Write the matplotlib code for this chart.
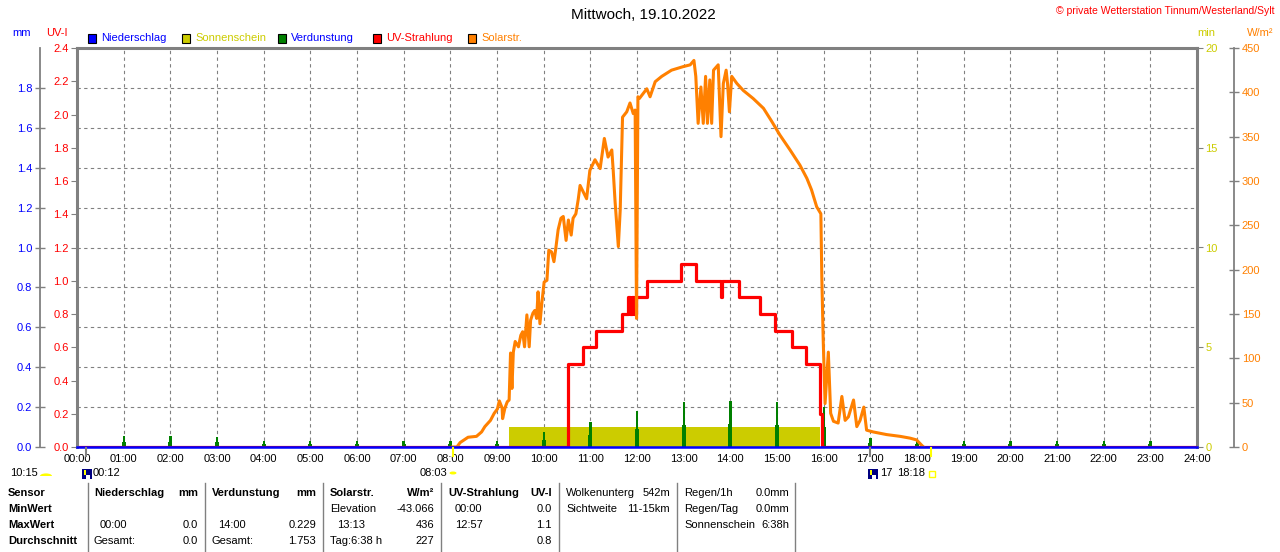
import numpy as np
import matplotlib
matplotlib.use("Agg")
import matplotlib.pyplot as plt
from matplotlib.patches import Rectangle, Circle, Wedge
from matplotlib.lines import Line2D

plt.rcParams['font.family'] = ['Liberation Sans', 'DejaVu Sans']
plt.rcParams['font.size'] = 8

W, H = 1280, 552

# ---- data -------------------------------------------------------------
hours = np.arange(0, 25)
hour_labels = ["%02d:00" % h for h in hours]

# Niederschlag (mm) - nothing fell
rain_hours = [0, 24]
rain_mm = [0.0, 0.0]

# Verdunstung per hour (mm)
evap_hours = np.arange(1, 24)
evap_mm = [0.055, 0.055, 0.05, 0.03, 0.03, 0.03, 0.03, 0.03, 0.03, 0.075,
           0.125, 0.18, 0.225, 0.229, 0.225, 0.2, 0.045, 0.03, 0.03, 0.03,
           0.03, 0.03, 0.03]

# Sonnenschein (min per interval)
sun_t = [9.25, 15.92]
sun_min = [1.0, 1.0]

# UV-Strahlung (UV-I), stepwise
uv_t = [0, 10.52, 10.84, 11.12, 11.68, 11.81, 11.86, 11.90, 11.93, 11.97,
        12.21, 12.94, 13.26, 13.79, 13.82, 14.19, 14.64, 14.96, 15.32,
        15.62, 15.92, 15.97, 24]
uv_val = [0, 0.5, 0.6, 0.7, 0.8, 0.9, 0.8, 0.9, 0.8, 0.9,
          1.0, 1.1, 1.0, 0.9, 1.0, 0.9, 0.8, 0.7, 0.6,
          0.5, 0.2, 0, 0]

# Solarstrahlung (W/m2)
sol_t = [8.05, 8.14, 8.21, 8.38, 8.56, 8.67, 8.74, 8.86, 8.94, 9.01, 9.05,
         9.11, 9.12, 9.17, 9.22, 9.26, 9.29, 9.32, 9.35, 9.39, 9.46, 9.51,
         9.55, 9.59, 9.64, 9.69, 9.72, 9.77, 9.81, 9.85, 9.88, 9.92, 9.96,
         10.01, 10.07, 10.11, 10.17, 10.22, 10.26, 10.31, 10.37, 10.42,
         10.48, 10.53, 10.59, 10.63, 10.69, 10.74, 10.78,
         10.92, 10.99, 11.10, 11.21, 11.30, 11.38, 11.46, 11.49,
         11.53, 11.60, 11.64, 11.69, 11.78, 11.85, 11.92, 11.96, 11.99,
         12.02, 12.05, 12.21, 12.28, 12.39, 12.53, 12.74, 12.99, 13.14,
         13.22, 13.26, 13.31, 13.37, 13.42, 13.47, 13.51, 13.56, 13.60,
         13.64, 13.74, 13.80, 13.85, 13.91, 13.94, 13.98, 14.03, 14.14,
         14.28, 14.49, 14.71, 14.89, 15.06, 15.28, 15.49, 15.64, 15.74,
         15.85, 15.94, 15.96, 15.99, 16.03, 16.10, 16.15, 16.21, 16.31,
         16.39, 16.46, 16.53, 16.64, 16.71, 16.78, 16.86, 16.92, 17.06,
         17.35, 17.64, 17.85, 17.99, 18.10, 18.14]
sol_w = [0, 0, 5, 11, 12, 17, 23, 30, 38, 43, 52,
         44, 32, 44, 51, 53, 106, 66, 107, 119, 113, 126,
         130, 113, 149, 113, 143, 151, 154, 145, 175, 139, 162,
         186, 188, 222, 220, 209, 224, 245, 258, 260,
         233, 256, 239, 258, 263, 279, 295,
         280, 312, 324, 314, 348, 327, 335, 312,
         277, 226, 267, 372, 378, 388, 376, 380, 145,
         395, 393, 404, 395, 412, 418, 425, 429, 431,
         436, 418, 365, 406, 365, 418, 365, 414, 365,
         425, 431, 350, 410, 425, 410, 378, 418, 410,
         402, 393, 382, 367, 352, 335, 318, 303, 290,
         271, 263, 192, 121, 49, 107, 38, 29, 27,
         57, 30, 34, 53, 23, 30, 45, 19, 17,
         14, 12, 10, 8, 2, 0]

BLUE = '#0000ff'
YELLOW = '#cccc00'
GREEN = '#008000'
RED = '#ff0000'
ORANGE = '#ff8000'
GRAY = '#808080'
PT = 0.72  # points per pixel at 100 dpi

fig = plt.figure(figsize=(12.8, 5.52), dpi=100)
ax = fig.add_axes([77 / W, 1 - 447 / H, (1197 - 77) / W, (447 - 48) / H])


def only(a, sides):
    for k, s in a.spines.items():
        s.set_visible(k in sides)


# main axis: grid + mm scale
ax.set_xlim(0, 24)
ax.set_ylim(0, 2.0)
only(ax, ['left', 'top', 'bottom'])
ax.spines['left'].set_position(('outward', 37 * PT))
ax.spines['left'].set_color(GRAY)
ax.spines['left'].set_linewidth(1.3)
ax.spines['top'].set_color(GRAY)
ax.spines['top'].set_linewidth(2.2)
ax.spines['bottom'].set_color(GRAY)
ax.set_yticks(np.arange(0, 1.81, 0.2))
ax.set_yticklabels(["%.1f" % v for v in np.arange(0, 1.81, 0.2)])
ax.tick_params(axis='y', colors=GRAY, labelcolor=BLUE, direction='inout',
               length=7, width=1, pad=2, labelsize=8)
ax.set_xticks(hours)
ax.set_xticklabels(hour_labels)
ax.tick_params(axis='x', length=0, pad=5, labelsize=8)
ax.grid(True, color=GRAY, linestyle=(0, (3, 3)), linewidth=0.8)

# Sonnenschein (min)
ax_sun = ax.twinx()
ax_sun.set_ylim(0, 20)
only(ax_sun, ['right'])
ax_sun.spines['right'].set_color(GRAY)
ax_sun.spines['right'].set_linewidth(2.2)
ax_sun.set_yticks([0, 5, 10, 15, 20])
ax_sun.tick_params(axis='y', colors=GRAY, labelcolor=YELLOW, length=4,
                   pad=2, labelsize=8)
ax_sun.fill_between(sun_t, sun_min, color=YELLOW, linewidth=0)

# Verdunstung (mm)
ax_ev = ax.twinx()
ax_ev.set_ylim(0, 2.0)
only(ax_ev, [])
ax_ev.set_yticks([])
ax_ev.bar(evap_hours, evap_mm, width=0.05, color=GREEN, linewidth=0)
ax_ev.bar(evap_hours, np.array(evap_mm) / 2, width=0.09, color=GREEN,
          linewidth=0)

# UV-Strahlung
ax_uv = ax.twinx()
ax_uv.set_ylim(0, 2.4)
only(ax_uv, ['left'])
ax_uv.yaxis.set_ticks_position('left')
ax_uv.spines['left'].set_color(GRAY)
ax_uv.spines['left'].set_linewidth(2.2)
ax_uv.set_yticks(np.arange(0, 2.41, 0.2))
ax_uv.set_yticklabels(["%.1f" % v for v in np.arange(0, 2.41, 0.2)])
ax_uv.tick_params(axis='y', colors=GRAY, labelcolor=RED, length=4, pad=2,
                  labelsize=8)
ax_uv.step(uv_t, uv_val, where='post', color=RED, linewidth=2.3)

# Solarstrahlung
ax_sol = ax.twinx()
ax_sol.set_ylim(0, 450)
only(ax_sol, ['right'])
ax_sol.spines['right'].set_position(('outward', 37 * PT))
ax_sol.spines['right'].set_color(GRAY)
ax_sol.spines['right'].set_linewidth(1.3)
ax_sol.set_yticks(np.arange(0, 451, 50))
ax_sol.tick_params(axis='y', colors=GRAY, labelcolor=ORANGE,
                   direction='inout', length=7, width=1, pad=2, labelsize=8)
ax_sol.plot(sol_t, sol_w, color=ORANGE, linewidth=2.2)

# Niederschlag (mm), drawn last so the blue zero line sits on top
ax_rain = ax.twinx()
ax_rain.set_ylim(0, 2.0)
only(ax_rain, [])
ax_rain.set_yticks([])
ax_rain.plot(rain_hours, rain_mm, color=BLUE, linewidth=1.8, clip_on=False)

# sunrise/sunset + moon marks under the axis
for t, c in [(0.2, GRAY), (17.0, GRAY), (8.05, 'yellow'), (18.3, 'yellow')]:
    ax_rain.plot([t, t], [-0.005, -0.045], color=c, linewidth=1.5,
                 clip_on=False)


def px(x, y):
    return x / W, 1 - y / H


def ftxt(x, y, s, **kw):
    kw.setdefault('va', 'center')
    fig.text(*px(x, y), s, **kw)


# title and header texts
ftxt(643, 15, "Mittwoch, 19.10.2022", ha='center', fontsize=11)
ftxt(1275, 11, "\u00a9 private Wetterstation Tinnum/Westerland/Sylt",
     ha='right', color=RED, fontsize=7.5)
ftxt(22, 33, "mm", ha='center', color=BLUE)
ftxt(57, 33, "UV-I", ha='center', color=RED)
ftxt(1206, 33, "min", ha='center', color=YELLOW)
ftxt(1260, 33, "W/m\u00b2", ha='center', color=ORANGE)

legend = [("Niederschlag", BLUE, BLUE), ("Sonnenschein", YELLOW, YELLOW),
          ("Verdunstung", GREEN, BLUE), ("UV-Strahlung", RED, RED),
          ("Solarstr.", ORANGE, ORANGE)]
leg_x = [88, 182, 278, 373, 468]
for (lab, fc, tc), x in zip(legend, leg_x):
    fig.add_artist(Rectangle(px(x, 43), 8 / W, 9 / H, facecolor=fc,
                             edgecolor='black', linewidth=0.8,
                             transform=fig.transFigure))
    ftxt(x + 13, 38, lab, color=tc)

# sun / moon row
ftxt(10, 473, "10:15")
fig.add_artist(Wedge(px(46, 476), 6 / W, 0, 180, facecolor='yellow',
                     edgecolor='none', transform=fig.transFigure))
for mx in [82, 868]:
    fig.add_artist(Rectangle(px(mx, 479), 10 / W, 10 / H,
                             facecolor='#000080', edgecolor='none',
                             transform=fig.transFigure))
    fig.add_artist(Rectangle(px(mx + 4, 479), 4 / W, 4 / H,
                             facecolor='white', edgecolor='none',
                             transform=fig.transFigure))
    fig.add_artist(Rectangle(px(mx + 2, 475), 2 / W, 5 / H,
                             facecolor='yellow', edgecolor='none',
                             transform=fig.transFigure))
ftxt(93, 473, "00:12")
ftxt(420, 473, "08:03")
fig.add_artist(Circle(px(453, 473), 3.5 / W, facecolor='yellow',
                      edgecolor='none', transform=fig.transFigure))
ftxt(880, 473, "17")
ftxt(897, 473, "18:18")
fig.add_artist(Rectangle(px(929, 477), 6 / W, 6 / H, facecolor='none',
                         edgecolor='yellow', linewidth=1,
                         transform=fig.transFigure))

# table
for x in [88, 205, 323, 441, 559, 677, 795]:
    fig.add_artist(Line2D([x / W, x / W], [1 - 483 / H, 0], color=GRAY,
                          linewidth=1, transform=fig.transFigure))

rows_y = [493, 509, 525, 541]
for y, s in zip(rows_y, ["Sensor", "MinWert", "MaxWert", "Durchschnitt"]):
    ftxt(8, y, s, fontweight='bold')

cells = [
    (94, 0, "Niederschlag", 'left', True), (198, 0, "mm", 'right', True),
    (100, 2, "00:00", 'left', False), (198, 2, "0.0", 'right', False),
    (94, 3, "Gesamt:", 'left', False), (198, 3, "0.0", 'right', False),
    (212, 0, "Verdunstung", 'left', True), (316, 0, "mm", 'right', True),
    (218, 2, "14:00", 'left', False), (316, 2, "0.229", 'right', False),
    (212, 3, "Gesamt:", 'left', False), (316, 3, "1.753", 'right', False),
    (330, 0, "Solarstr.", 'left', True),
    (434, 0, "W/m\u00b2", 'right', True),
    (330, 1, "Elevation", 'left', False),
    (434, 1, "-43.066", 'right', False),
    (337, 2, "13:13", 'left', False), (434, 2, "436", 'right', False),
    (330, 3, "Tag:6:38 h", 'left', False), (434, 3, "227", 'right', False),
    (448, 0, "UV-Strahlung", 'left', True),
    (552, 0, "UV-I", 'right', True),
    (455, 1, "00:00", 'left', False), (552, 1, "0.0", 'right', False),
    (455, 2, "12:57", 'left', False), (552, 2, "1.1", 'right', False),
    (552, 3, "0.8", 'right', False),
    (566, 0, "Wolkenunterg", 'left', False),
    (670, 0, "542m", 'right', False),
    (566, 1, "Sichtweite", 'left', False),
    (670, 1, "11-15km", 'right', False),
    (684, 0, "Regen/1h", 'left', False), (789, 0, "0.0mm", 'right', False),
    (684, 1, "Regen/Tag", 'left', False), (789, 1, "0.0mm", 'right', False),
    (684, 2, "Sonnenschein", 'left', False),
    (789, 2, "6:38h", 'right', False),
]
for x, r, s, ha, bold in cells:
    ftxt(x, rows_y[r], s, ha=ha, fontweight='bold' if bold else 'normal')

fig.savefig("out.png", dpi=100)
